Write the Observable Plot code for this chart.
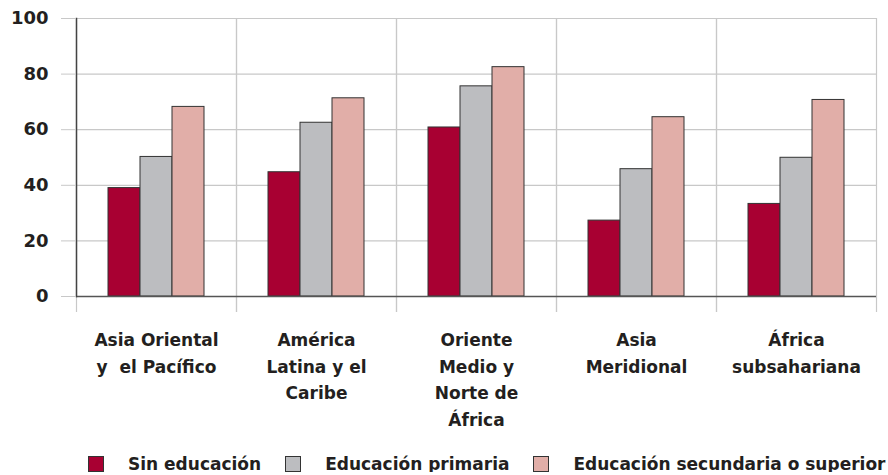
<!DOCTYPE html>
<html><head><meta charset="utf-8">
<script src="https://cdn.jsdelivr.net/npm/d3@7"></script>
<script src="https://cdn.jsdelivr.net/npm/@observablehq/plot@0.6"></script>
<style>
body{margin:0;background:#fff;font-family:"DejaVu Sans",sans-serif;font-weight:bold;color:#231f20;}
#legend{display:flex;align-items:center;padding-left:88px;margin-top:25px;font-size:17px;height:17px;}
#legend .sw{width:14px;height:14px;border:1px solid #333;margin-right:24px;flex:none;}
#legend .lb{margin-right:24px;white-space:nowrap;}
</style></head><body>
<div id="chart"></div>
<div id="legend"></div>
<script>
const regions = [
  "Asia Oriental\ny\u00a0 el Pacífico",
  "América\nLatina y el\nCaribe",
  "Oriente\nMedio y\nNorte de\nÁfrica",
  "Asia\nMeridional",
  "África\nsubsahariana"
];
const series = ["Sin educación", "Educación primaria", "Educación secundaria o superior"];
const sinEducacion = [39.0, 44.7, 60.8, 27.3, 33.3];
const primaria = [50.2, 62.5, 75.6, 45.8, 49.9];
const secundaria = [68.2, 71.3, 82.5, 64.5, 70.7];
const colors = ["#a80032", "#bcbdc0", "#e1aea8"];
const yTicks = [0, 20, 40, 60, 80, 100];

const seriesValues = [sinEducacion, primaria, secundaria];
const data = regions.flatMap((r, i) => series.map((s, j) => ({region: r, series: s, value: seriesValues[j][i]})));

const plot = Plot.plot({
  width: 888, height: 430,
  marginTop: 18, marginLeft: 76, marginRight: 12, marginBottom: 134,
  style: {fontFamily: "DejaVu Sans", fontWeight: "bold", color: "#231f20", background: "white", overflow: "visible"},
  fx: {domain: regions, padding: 0, label: null, axis: null},
  x: {domain: series, paddingInner: 0, paddingOuter: 1, axis: null},
  y: {domain: [0, 100], label: null},
  color: {domain: series, range: colors},
  marks: [
    Plot.ruleY(yTicks, {stroke: "#c8c8c8", strokeWidth: 1.2}),
    Plot.frame({anchor: "left", stroke: "#c8c8c8", strokeWidth: 1.2, insetBottom: -15}),
    Plot.frame({anchor: "right", stroke: "#c8c8c8", strokeWidth: 1.2, insetBottom: -15}),
    Plot.barY(data, {fx: "region", x: "series", y: "value", fill: "series", stroke: "#333", strokeWidth: 1}),
    Plot.ruleY([0], {stroke: "#555", strokeWidth: 1.5}),
    Plot.frame({anchor: "left", stroke: "#444", strokeWidth: 1.5, fx: () => regions[0]}),
    Plot.axisY({ticks: yTicks, tickSize: 15, tickPadding: 13, stroke: "#c8c8c8", fill: "#231f20", fontSize: 18, label: null}),
    Plot.axisFx({anchor: "bottom", tickSize: 0, tickPadding: 31, fontSize: 17, lineHeight: 1.56, fill: "#231f20", label: null})
  ]
});
document.getElementById("chart").append(plot);

const legend = document.getElementById("legend");
series.forEach((s, i) => {
  const sw = document.createElement("span");
  sw.className = "sw";
  sw.style.background = colors[i];
  const lb = document.createElement("span");
  lb.className = "lb";
  lb.textContent = s;
  legend.append(sw, lb);
});
</script>
</body></html>
